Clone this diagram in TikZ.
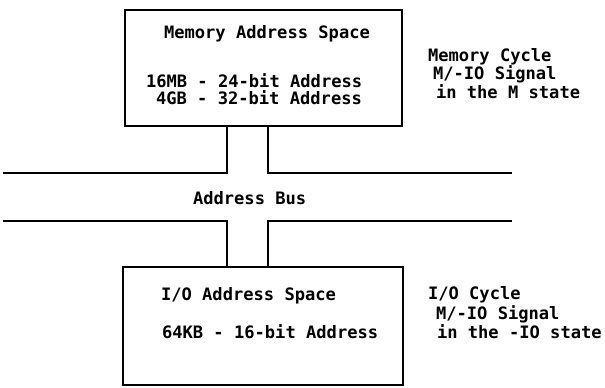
\documentclass[tikz,border=0pt]{standalone}
\usepackage{fontspec}
\setmonofont{DejaVu Sans Mono}
\begin{document}
\begin{tikzpicture}[x=1bp,y=-1bp,
  line width=2bp, line cap=rect,
  lbl/.style={anchor=west, inner sep=0pt, text height=12.4bp, text depth=0pt,
    font=\ttfamily\bfseries\fontsize{17.1bp}{20bp}\selectfont},
  boxnode/.style={draw, rectangle, inner sep=0pt}]
\useasboundingbox (0,0) rectangle (605,387);
% boxes
\node[boxnode, minimum width=277bp, minimum height=116bp] (mem) at (263.5,68) {};
\node[boxnode, minimum width=280bp, minimum height=118bp] (io) at (263,326) {};
% bus geometry
\coordinate (busTL) at (4,173);
\coordinate (busTR) at (511,173);
\coordinate (busBL) at (4,221);
\coordinate (busBR) at (511,221);
\coordinate (sL) at (227,0);
\coordinate (sR) at (267.5,0);
\draw (busTL) -- (busTL -| sL) -- (mem.south -| sL);
\draw (mem.south -| sR) -- (busTR -| sR) -- (busTR);
\draw (busBL) -- (busBL -| sL) -- (io.north -| sL);
\draw (io.north -| sR) -- (busBR -| sR) -- (busBR);
% texts
\node[lbl] (t1) at (163,32) {Memory Address Space};
\node[lbl] (t2) at (145,81) {16MB - 24-bit Address};
\node[lbl] (t3) at (155,98) {4GB - 32-bit Address};
\node[lbl] (bus) at (192,198) {Address Bus};
\node[lbl] (t4) at (160,294) {I/O Address Space};
\node[lbl] (t5) at (161,332) {64KB - 16-bit Address};
\node[lbl] (r1) at (427,55) {Memory Cycle};
\node[lbl] (r2) at (432,73) {M/-IO Signal};
\node[lbl] (r3) at (435,92) {in the M state};
\node[lbl] (r4) at (427,293) {I/O Cycle};
\node[lbl] (r5) at (435,313) {M/-IO Signal};
\node[lbl] (r6) at (436,332) {in the -IO state};
\end{tikzpicture}
\end{document}
